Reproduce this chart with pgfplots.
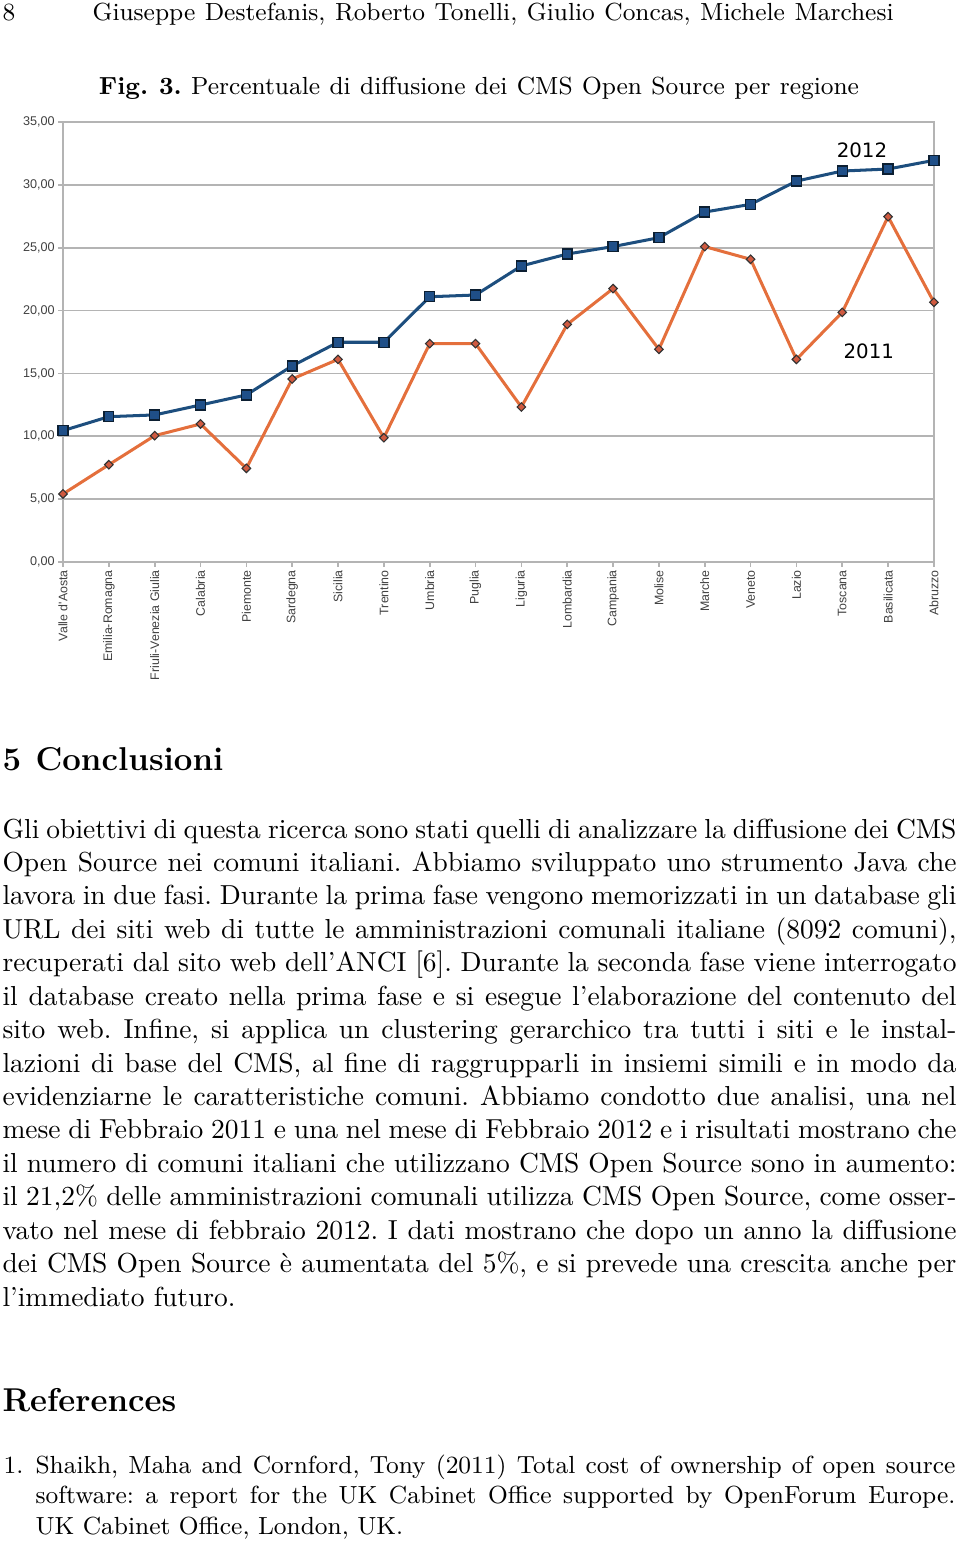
\documentclass[border=0pt]{standalone}
\usepackage{fontspec}
\usepackage{pgfplots}
\pgfplotsset{compat=1.18}
\newfontfamily\chartfont{Liberation Sans}
\newfontfamily\dejavu{DejaVu Sans}
\definecolor{blue12}{HTML}{1D4E7E}
\definecolor{blue12m}{HTML}{1F4F88}
\definecolor{orange11}{HTML}{E46F3C}
\definecolor{orange11m}{HTML}{D05A40}
\definecolor{gridgray}{HTML}{B4B4B4}
\newcommand\jl[1]{\hbox to 347pt{#1}}
\newcommand\rl[1]{\hbox to 334.6pt{#1}}
\frenchspacing
\begin{document}
\begin{tikzpicture}
\begin{scope}[x=0.36375pt,y=-0.36375pt]
\path[use as bounding box] (0,0) rectangle (960,1545);
\coordinate (axSW) at (63,562);
\node[anchor=base west,inner sep=0] at (2,21) {\small 8};
\node[anchor=base west,inner sep=0] at (92,21) {\small\hbox to 291.4pt{Giuseppe Destefanis, Roberto Tonelli, Giulio Concas, Michele Marchesi}};
\node[anchor=base,inner sep=0] at (479,95) {\small\hbox to 276.5pt{\textbf{Fig. 3.} Percentuale di diffusione dei CMS Open Source per regione}};
\node[anchor=base west,inner sep=0] at (2,770) {\large\bfseries 5};
\node[anchor=base west,inner sep=0] at (35,770) {\large\bfseries Conclusioni};
\node[anchor=base west,inner sep=0] at (2,838) {\vtop{\baselineskip=12.16pt
\jl{Gli obiettivi di questa ricerca sono stati quelli di analizzare la diffusione dei CMS}
\jl{Open Source nei comuni italiani. Abbiamo sviluppato uno strumento Java che}
\jl{lavora in due fasi. Durante la prima fase vengono memorizzati in un database gli}
\jl{URL dei siti web di tutte le amministrazioni comunali italiane (8092 comuni),}
\jl{recuperati dal sito web dell'ANCI [6]. Durante la seconda fase viene interrogato}
\jl{il database creato nella prima fase e si esegue l'elaborazione del contenuto del}
\jl{sito web. Infine, si applica un clustering gerarchico tra tutti i siti e le instal-}
\jl{lazioni di base del CMS, al fine di raggrupparli in insiemi simili e in modo da}
\jl{evidenziarne le caratteristiche comuni. Abbiamo condotto due analisi, una nel}
\jl{mese di Febbraio 2011 e una nel mese di Febbraio 2012 e i risultati mostrano che}
\jl{il numero di comuni italiani che utilizzano CMS Open Source sono in aumento:}
\jl{il 21,2\% delle amministrazioni comunali utilizza CMS Open Source, come osser-}
\jl{vato nel mese di febbraio 2012. I dati mostrano che dopo un anno la diffusione}
\jl{dei CMS Open Source è aumentata del 5\%, e si prevede una crescita anche per}
\hbox{l'immediato futuro.}}};
\node[anchor=base west,inner sep=0] at (2,1411) {\large\bfseries References};
\node[anchor=base west,inner sep=0] at (3,1473) {\small 1.};
\node[anchor=base west,inner sep=0] at (35,1473) {\small\vtop{\baselineskip=11.2pt
\rl{Shaikh, Maha and Cornford, Tony (2011) Total cost of ownership of open source}
\rl{software: a report for the UK Cabinet Office supported by OpenForum Europe.}
\hbox{UK Cabinet Office, London, UK.}}};
\end{scope}
\begin{axis}[
  at={(axSW)}, anchor=south west,
  scale only axis, width=316.8pt, height=160.05pt,
  xmin=0, xmax=19, ymin=0, ymax=35,
  xtick={0,...,19},
  xticklabels={Valle d'Aosta,Emilia-Romagna,Friuli-Venezia Giulia,Calabria,Piemonte,Sardegna,Sicilia,Trentino,Umbria,Puglia,Liguria,Lombardia,Campania,Molise,Marche,Veneto,Lazio,Toscana,Basilicata,Abruzzo},
  ytick={0,5,...,35},
  ymajorgrids, grid style={gridgray, line width=0.6pt},
  axis line style={gridgray, line width=0.8pt},
  tick style={gridgray, line width=0.6pt},
  tick align=outside, major tick length=1.8pt,
  xtick pos=bottom, ytick pos=left,
  /pgf/number format/assume math mode=true,
  x tick label style={rotate=90, anchor=east, font=\chartfont\fontsize{4.5}{5}\selectfont, text=black!75, inner sep=1pt},
  y tick label style={font=\chartfont\fontsize{4.6}{5}\selectfont, text=black!75, inner sep=1pt},
  yticklabel style={/pgf/number format/fixed, /pgf/number format/fixed zerofill, /pgf/number format/precision=2, /pgf/number format/use comma},
  clip=false,
]
\addplot[orange11, line width=1.1pt, mark=square*, mark size=1.1pt, mark options={rotate=45, fill=orange11m, draw=black!80, line width=0.4pt}] coordinates {
(0,5.41) (1,7.74) (2,10.05) (3,10.98) (4,7.45) (5,14.56) (6,16.12) (7,9.89) (8,17.37) (9,17.37)
(10,12.33) (11,18.9) (12,21.75) (13,16.92) (14,25.09) (15,24.08) (16,16.12) (17,19.86) (18,27.47) (19,20.66)};
\addplot[blue12, line width=1.1pt, mark=square*, mark size=1.8pt, mark options={fill=blue12m, draw=black!60!blue12, line width=0.5pt}] coordinates {
(0,10.45) (1,11.56) (2,11.7) (3,12.49) (4,13.29) (5,15.6) (6,17.48) (7,17.48) (8,21.1) (9,21.24)
(10,23.55) (11,24.5) (12,25.09) (13,25.8) (14,27.84) (15,28.45) (16,30.3) (17,31.1) (18,31.26) (19,31.95)};
\node[font=\dejavu\fontsize{7.2}{8}\selectfont] at (axis cs:17.43,32.78) {2012};
\node[font=\dejavu\fontsize{7.2}{8}\selectfont] at (axis cs:17.58,16.75) {2011};
\end{axis}
\end{tikzpicture}
\end{document}
